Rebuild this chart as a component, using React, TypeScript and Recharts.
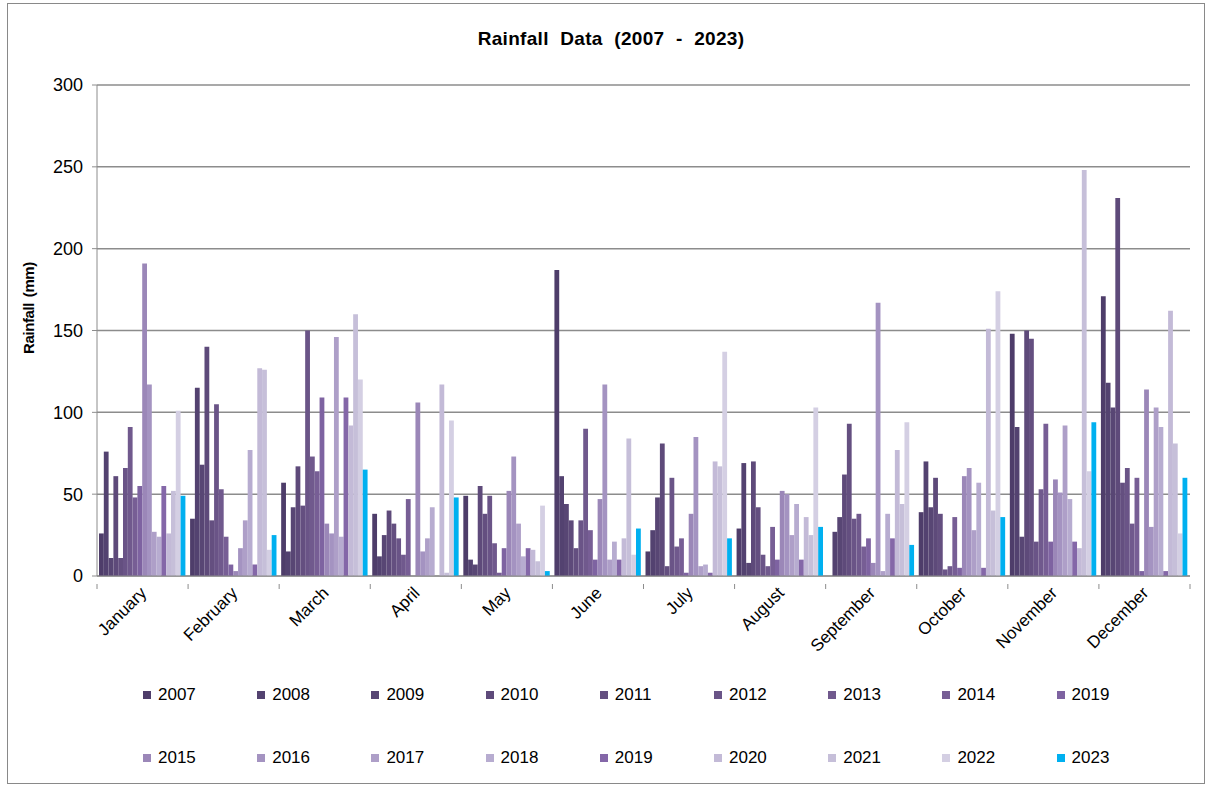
import { Bar, BarChart, CartesianGrid, Legend, XAxis, YAxis } from "recharts";

const months = [
  "January", "February", "March", "April", "May", "June",
  "July", "August", "September", "October", "November", "December",
];

// monthly rainfall (mm)
const r2007 = [26, 35, 57, 38, 49, 187, 15, 29, 0, 39, 148, 171];
const r2008 = [76, 115, 15, 12, 10, 61, 28, 69, 27, 70, 91, 118];
const r2009 = [11, 68, 42, 25, 7, 44, 48, 8, 36, 42, 24, 103];
const r2010 = [61, 140, 67, 40, 55, 34, 81, 70, 62, 60, 150, 231];
const r2011 = [11, 34, 43, 32, 38, 17, 6, 42, 93, 38, 145, 57];
const r2012 = [66, 105, 150, 23, 49, 34, 60, 13, 35, 4, 21, 66];
const r2013 = [91, 53, 73, 13, 20, 90, 18, 6, 38, 6, 53, 32];
const r2014 = [48, 24, 64, 47, 2, 28, 23, 30, 18, 36, 93, 60];
const r2019a = [55, 7, 109, 0, 17, 10, 2, 10, 23, 5, 21, 3];
const r2015 = [191, 3, 32, 106, 52, 47, 38, 52, 8, 61, 59, 114];
const r2016 = [117, 17, 26, 15, 73, 117, 85, 50, 167, 66, 51, 30];
const r2017 = [27, 34, 146, 23, 32, 10, 6, 25, 3, 28, 92, 103];
const r2018 = [24, 77, 24, 42, 12, 21, 7, 44, 38, 57, 47, 91];
const r2019 = [55, 7, 109, 0, 17, 10, 2, 10, 23, 5, 21, 3];
const r2020 = [26, 127, 92, 117, 16, 23, 70, 36, 77, 151, 17, 162];
const r2021 = [52, 126, 160, 2, 9, 84, 67, 25, 44, 40, 248, 81];
const r2022 = [101, 16, 120, 95, 43, 13, 137, 103, 94, 174, 64, 26];
const r2023 = [49, 25, 65, 48, 3, 29, 23, 30, 19, 36, 94, 60];

const seriesLabels = [
  "2007", "2008", "2009", "2010", "2011", "2012", "2013", "2014", "2019",
  "2015", "2016", "2017", "2018", "2019", "2020", "2021", "2022", "2023",
];
const seriesKeys = [
  "y2007", "y2008", "y2009", "y2010", "y2011", "y2012", "y2013", "y2014", "y2019a",
  "y2015", "y2016", "y2017", "y2018", "y2019", "y2020", "y2021", "y2022", "y2023",
];
const seriesValues = [
  r2007, r2008, r2009, r2010, r2011, r2012, r2013, r2014, r2019a,
  r2015, r2016, r2017, r2018, r2019, r2020, r2021, r2022, r2023,
];
const seriesColors = [
  "#4e3d6a", "#534270", "#584674", "#5e4a7a", "#644f80", "#6a5487", "#70598d", "#775e95", "#7e63a1",
  "#9b87b8", "#a493c1", "#ae9fc8", "#b7acd0", "#8467a8", "#c3bad7", "#c6bfd9", "#d4cfe3", "#00b0f0",
];
const yTicks = [0, 50, 100, 150, 200, 250, 300];

const data = months.map((month, i) => {
  const row: Record<string, string | number> = { month };
  seriesKeys.forEach((k, j) => {
    row[k] = seriesValues[j][i];
  });
  return row;
});

const FONT = '"Liberation Sans", Arial, sans-serif';
const AXIS = "#8c8c8c";
const BAND_HALF = 1093 / 12 / 2;

function MonthTick(props: any) {
  const { x, y, payload, index } = props;
  return (
    <g transform={`translate(${x},${y})`}>
      <line x1={BAND_HALF} y1={0} x2={BAND_HALF} y2={5} stroke={AXIS} />
      {index === 0 && <line x1={-BAND_HALF} y1={0} x2={-BAND_HALF} y2={5} stroke={AXIS} />}
      <text
        x={0}
        y={0}
        transform="translate(5, 10) rotate(-45)"
        textAnchor="end"
        fontSize={17}
        fontFamily={FONT}
        fill="#000"
      >
        {payload.value}
      </text>
    </g>
  );
}

function LegendBox() {
  return (
    <div style={{ position: "relative", width: 1210, height: 100, fontFamily: FONT, fontSize: 17 }}>
      {seriesLabels.map((label, i) => {
        const row = Math.floor(i / 9);
        const col = i % 9;
        return (
          <div
            key={seriesKeys[i]}
            style={{
              position: "absolute",
              left: 143 + col * 114.2,
              top: row * 63,
              height: 36,
              display: "flex",
              alignItems: "center",
              color: "#000",
            }}
          >
            <span style={{ width: 8, height: 8, background: seriesColors[i], marginRight: 7 }} />
            <span>{label}</span>
          </div>
        );
      })}
    </div>
  );
}

function YLabel() {
  const cy = 308;
  return (
    <text
      x={28}
      y={cy}
      transform={`rotate(-90, 28, ${cy})`}
      textAnchor="middle"
      dominantBaseline="central"
      fontSize={15}
      fontWeight="bold"
      fontFamily={FONT}
      style={{ letterSpacing: -0.4, wordSpacing: 2 }}
      fill="#000"
    >
      Rainfall (mm)
    </text>
  );
}

export default function App() {
  return (
    <div style={{ position: "absolute", left: 0, top: 0, width: 1210, height: 787, background: "#fff" }}>
      <div
        style={{
          position: "absolute",
          left: 7,
          top: 3,
          width: 1196,
          height: 779,
          border: "1px solid #898989",
        }}
      />
      <div
        style={{
          position: "absolute",
          left: 0,
          top: 28,
          width: 1222,
          textAlign: "center",
          fontFamily: FONT,
          fontWeight: "bold",
          fontSize: 19,
          letterSpacing: 0.3,
          wordSpacing: 6,
          color: "#000",
        }}
      >
        Rainfall Data (2007 - 2023)
      </div>
      <BarChart
        width={1210}
        height={787}
        data={data}
        margin={{ top: 85, right: 20, left: 0, bottom: 11 }}
        barSize={4.8}
        barGap={0}
        style={{ position: "absolute", left: 0, top: 0 }}
      >
        <CartesianGrid vertical={false} stroke={AXIS} strokeWidth={1.5} />
        <XAxis
          dataKey="month"
          height={100}
          interval={0}
          tickLine={false}
          axisLine={{ stroke: AXIS }}
          tick={<MonthTick />}
        />
        <YAxis
          width={97}
          domain={[0, 300]}
          ticks={yTicks}
          interval={0}
          tickSize={5}
          tickMargin={9}
          tickLine={{ stroke: AXIS }}
          axisLine={{ stroke: AXIS }}
          tick={{ fontSize: 18, fill: "#000", fontFamily: FONT }}
          label={<YLabel />}
        />
        <Legend
          verticalAlign="bottom"
          content={() => <LegendBox />}
          wrapperStyle={{ left: 0, top: 677, bottom: "auto", width: 1210, height: 100 }}
        />
        {seriesKeys.map((k, i) => (
          <Bar key={k} dataKey={k} name={seriesLabels[i]} fill={seriesColors[i]} isAnimationActive={false} />
        ))}
      </BarChart>
    </div>
  );
}
